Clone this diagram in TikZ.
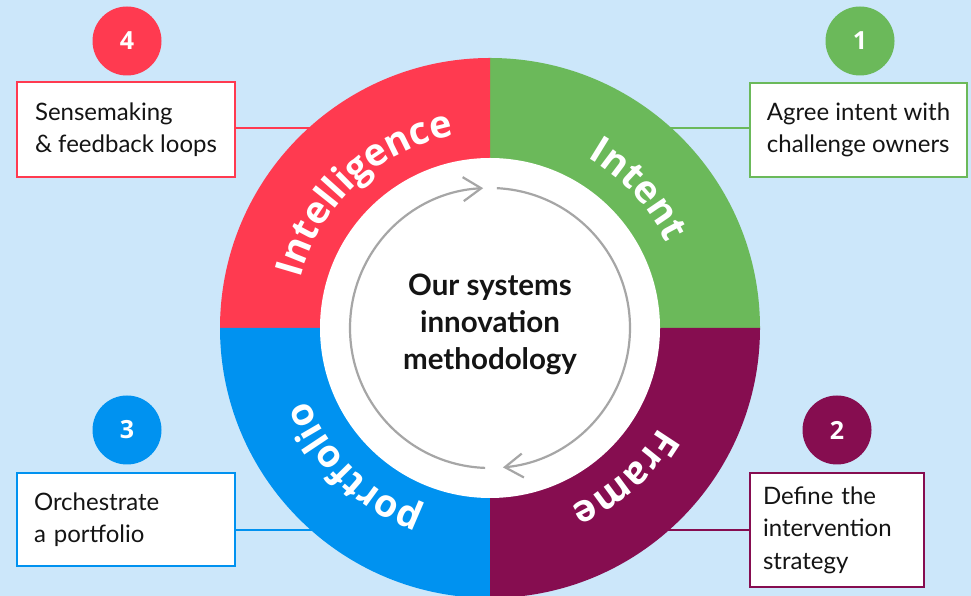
\documentclass[tikz,border=0pt]{standalone}
\usepackage{fontspec}
\setmainfont{Lato}
\newfontfamily\ringfont{Open Sans}
\usetikzlibrary{decorations.text,arrows.meta}
\definecolor{bg}{RGB}{204,231,250}
\definecolor{cred}{RGB}{255,58,80}
\definecolor{cgreen}{RGB}{107,185,90}
\definecolor{cmaroon}{RGB}{134,13,80}
\definecolor{cblue}{RGB}{0,146,240}
\definecolor{cgrey}{RGB}{166,166,166}
\definecolor{ctext}{RGB}{20,20,20}
\newcommand\ringstyle{\ringfont\bfseries\fontsize{38}{38}\selectfont\color{white}}
\begin{document}
\begin{tikzpicture}[x=1pt,y=1pt,
  box/.style={draw=#1, fill=white, line width=2pt, align=left, font=\fontsize{24}{32.5}\selectfont, text=ctext, inner ysep=0pt},
  numdot/.style={circle, fill=#1, minimum size=69pt, inner sep=0pt, text=white, font=\ringfont\bfseries\fontsize{25}{25}\selectfont},
  link/.style={draw=#1, line width=2pt},
  cycarrow/.style={draw=cgrey, line width=2.2pt, -{Straight Barb[length=18pt, width=24pt]}}
]
\useasboundingbox (0,0) rectangle (971,596);
\clip (0,0) rectangle (971,596);
\fill[bg] (0,0) rectangle (971,596);
\coordinate (C) at (490,268);
% connector ends (hidden under the ring)
\coordinate (p4) at (330,468);
\coordinate (p1) at (650,468);
\coordinate (p3) at (330,66);
\coordinate (p2) at (650,66);
% boxes
\node[box=cred, minimum width=218pt, inner xsep=0pt, minimum height=95pt] (b4) at (126,466.5) {Sensemaking\\\& feedback loops};
\node[box=cgreen, minimum width=217pt, inner xsep=0pt, minimum height=94pt] (b1) at (858.5,466) {Agree intent with\\challenge owners};
\node[box=cblue, text width=184pt, inner xsep=17pt, minimum height=93pt] (b3) at (126,76.5) {Orchestrate\\a portfolio};
\node[box=cmaroon, text width=148pt, inner xsep=13pt, minimum height=114pt] (b2) at (837,66) {Define the\\intervention\\strategy};
% connectors
\draw[link=cred] (b4.east |- p4) -- (p4);
\draw[link=cgreen] (b1.west |- p1) -- (p1);
\draw[link=cblue] (b3.east |- p3) -- (p3);
\draw[link=cmaroon] (b2.west |- p2) -- (p2);
% ring
\fill[cgreen] (C) -- ([shift={(0:270)}]C) arc[start angle=0, end angle=90, radius=270] -- cycle;
\fill[cred] (C) -- ([shift={(90:270)}]C) arc[start angle=90, end angle=180, radius=270] -- cycle;
\fill[cblue] (C) -- ([shift={(180:270)}]C) arc[start angle=180, end angle=270, radius=270] -- cycle;
\fill[cmaroon] (C) -- ([shift={(270:270)}]C) arc[start angle=270, end angle=360, radius=270] -- cycle;
\fill[white] (C) circle[radius=170];
% ring labels
\path[decorate, decoration={text along path, text align=center, text={|\ringstyle|Intelligence}}] ([shift={(193:196)}]C) arc[start angle=193, end angle=73, radius=196];
\path[decorate, decoration={text along path, text align=center, text={|\ringstyle|Intent}}] ([shift={(103:196)}]C) arc[start angle=103, end angle=-17, radius=196];
\path[decorate, decoration={text along path, text align=center, text={|\ringstyle|Frame}}] ([shift={(12:196)}]C) arc[start angle=12, end angle=-108, radius=196];
\path[decorate, decoration={text along path, text align=center, text={|\ringstyle|portfolio}}] ([shift={(286:196)}]C) arc[start angle=286, end angle=166, radius=196];
% cycle arrows
\draw[cycarrow] ([shift={(268:140)}]C) arc[start angle=268, end angle=92.8, radius=140];
\draw[cycarrow] ([shift={(87.2:140)}]C) arc[start angle=87.2, end angle=-84.7, radius=140];
% centre title
\node[align=center, text=ctext, font=\bfseries\fontsize{29.5}{37}\selectfont] (title) at (490,272) {Our systems\\innovation\\methodology};
% step numbers
\node[numdot=cred] (n4) at (127,555) {4};
\node[numdot=cgreen] (n1) at (860,555) {1};
\node[numdot=cblue] (n3) at (127,166) {3};
\node[numdot=cmaroon] (n2) at (837,166) {2};
\end{tikzpicture}
\end{document}
